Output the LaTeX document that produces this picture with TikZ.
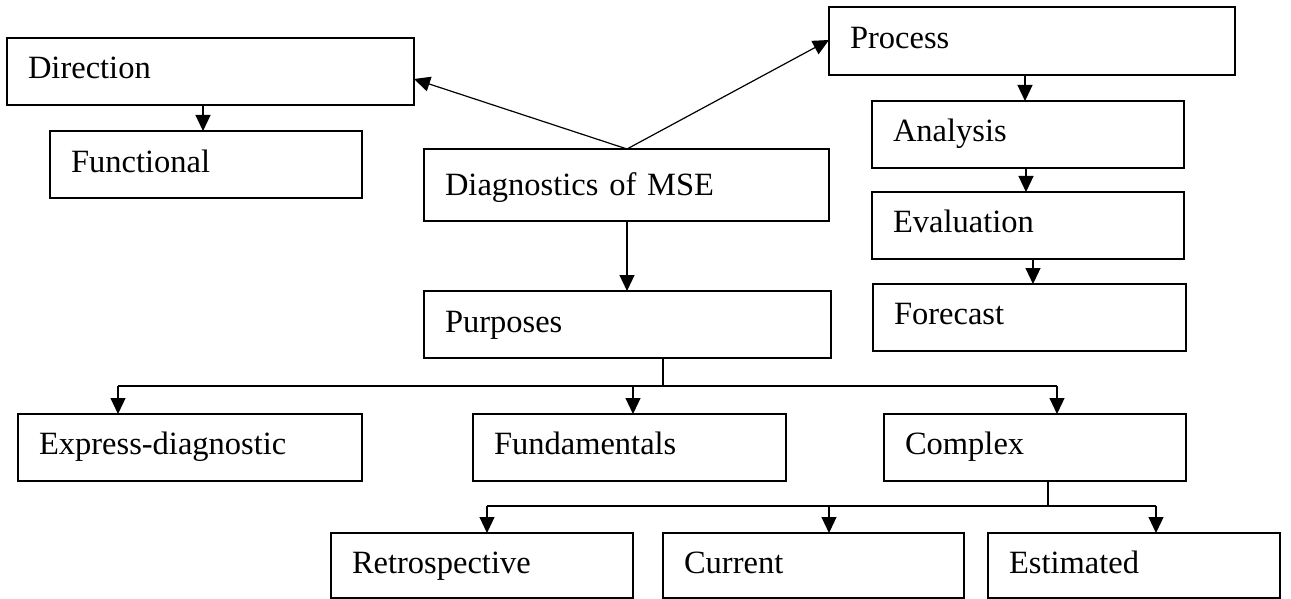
\documentclass[tikz,border=0pt]{standalone}
\usepackage{fontspec}
\setmainfont{Liberation Serif}
\usetikzlibrary{arrows.meta}
\newcommand\BX[7]{%
  \pgfmathsetmacro\bxw{#4-#2}%
  \pgfmathsetmacro\bxh{#5-#3}%
  \pgfmathsetmacro\bxt{#4-#2-42}%
  \pgfmathsetmacro\bxa{2*#6-(#5-#3)+8}%
  \node[box, minimum width=\bxw pt, minimum height=\bxh pt, text width=\bxt pt,
        text height=\bxa pt, text depth=8pt, anchor=north west] (#1) at (#2,#3) {#7};}
\begin{document}
\begin{tikzpicture}[x=1pt,y=-1pt,
  box/.style={draw, line width=1.3pt, inner xsep=21pt, inner ysep=0pt, outer sep=0pt,
              align=left, font=\fontsize{32.5}{38}\selectfont},
  arr/.style={line width=1.2pt, -{Triangle[length=16pt,width=15pt]}},
  ln/.style={line width=1.2pt}]
\useasboundingbox (0,0) rectangle (1291,599);
\BX{dir}{7}{38}{414}{105}{41}{Direction}
\BX{fun}{50}{131}{362}{198}{41}{Functional}
\BX{diag}{424}{149}{829}{221}{47}{Diagnostics of MSE}
\BX{proc}{829}{7}{1235}{75}{42}{Process}
\BX{ana}{872}{101}{1184}{168}{41}{Analysis}
\BX{eva}{872}{192}{1184}{259}{41}{Evaluation}
\BX{fore}{873}{284}{1186}{351}{40}{Forecast}
\BX{purp}{424}{291}{831}{358}{41}{Purposes}
\BX{expr}{18}{414}{362}{481}{40}{Express-diagnostic}
\BX{fund}{473}{414}{786}{481}{40}{Fundamentals}
\BX{comp}{884}{414}{1186}{481}{40}{Complex}
\BX{retro}{331}{533}{633}{598}{40}{Retrospective}
\BX{curr}{663}{533}{964}{598}{40}{Current}
\BX{est}{988}{533}{1280}{598}{40}{Estimated}
% helper coordinates
\coordinate (xdf) at (203,0);
\coordinate (xdg) at (627,0);
\coordinate (ydir) at (0,79);
\coordinate (yproc) at (0,40);
\coordinate (xpa) at (1025,0);
\coordinate (xae) at (1026,0);
\coordinate (xef) at (1033,0);
\coordinate (xps) at (663,0);
\coordinate (bus1) at (0,386);
\coordinate (xex) at (118,0);
\coordinate (xfu) at (633,0);
\coordinate (xco) at (1057,0);
\coordinate (xcs) at (1048,0);
\coordinate (bus2) at (0,506);
\coordinate (xre) at (487,0);
\coordinate (xcu) at (829,0);
\coordinate (xes) at (1156,0);
% connectors
\draw[arr] (dir.south -| xdf) -- (fun.north -| xdf);
\draw[arr] (diag.north -| xdg) -- (dir.east |- ydir);
\draw[arr] (diag.north -| xdg) -- (proc.west |- yproc);
\draw[arr] (proc.south -| xpa) -- (ana.north -| xpa);
\draw[arr] (ana.south -| xae) -- (eva.north -| xae);
\draw[arr] (eva.south -| xef) -- (fore.north -| xef);
\draw[arr] (diag.south -| xdg) -- (purp.north -| xdg);
\draw[ln] (purp.south -| xps) -- (xps |- bus1);
\draw[ln] (xex |- bus1) -- (xco |- bus1);
\draw[arr] (xex |- bus1) -- (expr.north -| xex);
\draw[arr] (xfu |- bus1) -- (fund.north -| xfu);
\draw[arr] (xco |- bus1) -- (comp.north -| xco);
\draw[ln] (comp.south -| xcs) -- (xcs |- bus2);
\draw[ln] (xre |- bus2) -- (xes |- bus2);
\draw[arr] (xre |- bus2) -- (retro.north -| xre);
\draw[arr] (xcu |- bus2) -- (curr.north -| xcu);
\draw[arr] (xes |- bus2) -- (est.north -| xes);
\end{tikzpicture}
\end{document}
